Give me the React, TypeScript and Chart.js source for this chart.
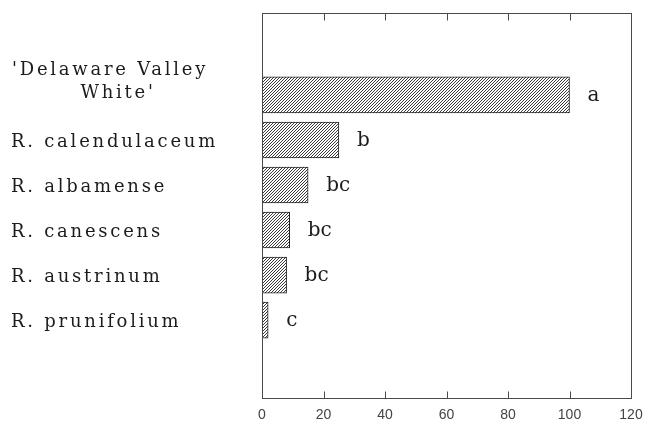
import React, { useEffect, useRef } from "react";
import { Chart, registerables } from "chart.js";

Chart.register(...registerables);

const categories: (string | string[])[] = [
  ["'Delaware Valley", "White'"],
  "R. calendulaceum",
  "R. albamense",
  "R. canescens",
  "R. austrinum",
  "R. prunifolium",
];
const values = [100, 25, 15, 9, 8, 2];
const groupLetters = ["a", "b", "bc", "bc", "bc", "c"];
const xTicks = [0, 20, 40, 60, 80, 100, 120];

export default function App() {
  const ref = useRef<HTMLCanvasElement>(null);

  useEffect(() => {
    const canvas = ref.current!;
    const pc = document.createElement("canvas");
    pc.width = 3;
    pc.height = 3;
    const p = pc.getContext("2d")!;
    p.fillStyle = "#ffffff";
    p.fillRect(0, 0, 3, 3);
    p.strokeStyle = "#222222";
    p.lineWidth = 0.9;
    p.beginPath();
    p.moveTo(0, 3);
    p.lineTo(3, 0);
    p.moveTo(-1, 1);
    p.lineTo(1, -1);
    p.moveTo(2, 4);
    p.lineTo(4, 2);
    p.stroke();
    const pattern = canvas.getContext("2d")!.createPattern(pc, "repeat")!;

    const framePlugin = {
      id: "frame",
      afterDatasetsDraw(chart: any) {
        const ctx = chart.ctx as CanvasRenderingContext2D;
        const xs = chart.scales.x;
        const { left, right, top, bottom } = chart.chartArea;
        ctx.save();
        ctx.strokeStyle = "#4a4a4a";
        ctx.lineWidth = 1;
        const l = Math.round(left) + 0.5;
        const t = Math.round(top) + 0.5;
        const r = Math.round(right) + 0.5;
        const b = Math.round(bottom) + 0.5;
        ctx.strokeRect(l, t, r - l, b - t);
        ctx.beginPath();
        xs.ticks.forEach((tk: any) => {
          if (tk.value <= xs.min || tk.value >= xs.max) return;
          const px = Math.round(xs.getPixelForValue(tk.value)) + 0.5;
          ctx.moveTo(px, t);
          ctx.lineTo(px, t + 7);
          ctx.moveTo(px, b);
          ctx.lineTo(px, b - 7);
        });
        ctx.stroke();
        ctx.restore();
      },
    };

    const labelPlugin = {
      id: "catLabels",
      afterDraw(chart: any) {
        const ctx = chart.ctx as any;
        const xs = chart.scales.x;
        const ys = chart.scales.y;
        ctx.save();
        ctx.fillStyle = "#1c1c1c";
        ctx.textBaseline = "alphabetic";
        ctx.font = '18px "DejaVu Serif"';
        ctx.letterSpacing = "0px";
        const base = ctx.measureText("R. calendulaceum").width;
        const ls = Math.max(0, (207 - base) / 16);
        ctx.letterSpacing = ls.toFixed(2) + "px";
        categories.forEach((c, i) => {
          const y = ys.getPixelForValue(i);
          if (Array.isArray(c)) {
            ctx.textAlign = "left";
            const w1 = ctx.measureText(c[0]).width;
            ctx.fillText(c[0], 12, y - 20);
            ctx.textAlign = "center";
            ctx.fillText(c[1], 12 + w1 / 2 + 8, y + 3);
          } else {
            ctx.textAlign = "left";
            ctx.fillText(c, 11, y + 7);
          }
        });
        ctx.font = '20px "DejaVu Serif"';
        ctx.letterSpacing = "0px";
        ctx.textAlign = "left";
        groupLetters.forEach((g, i) => {
          ctx.fillText(g, xs.getPixelForValue(values[i]) + 18, ys.getPixelForValue(i) + 6);
        });
        ctx.restore();
      },
    };

    const chart = new Chart(canvas, {
      type: "bar",
      data: {
        datasets: [
          {
            data: values.map((v, i) => ({ x: v, y: i })),
            backgroundColor: pattern,
            borderColor: "#222222",
            borderWidth: 1,
            borderSkipped: false,
            barThickness: 36,
          } as any,
        ],
      },
      options: {
        indexAxis: "y",
        animation: false,
        responsive: false,
        layout: { padding: { left: 262, right: 14, top: 13, bottom: 0 } },
        plugins: { legend: { display: false }, tooltip: { enabled: false } },
        scales: {
          y: { type: "linear", min: -1.82, max: 6.73, offset: false, reverse: true, display: false },
          x: {
            type: "linear",
            min: 0,
            max: 120,
            afterBuildTicks: (s: any) => {
              s.ticks = xTicks.map((v) => ({ value: v }));
            },
            afterFit: (s: any) => {
              s.height = 25;
              s.paddingLeft = 0;
              s.paddingRight = 0;
            },
            grid: { display: false, drawTicks: false, tickLength: 0 },
            border: { display: false },
            ticks: {
              padding: 9,
              maxRotation: 0,
              color: "#444444",
              font: { family: "Liberation Sans", size: 14 },
            },
          },
        },
      } as any,
      plugins: [framePlugin, labelPlugin],
    });
    return () => chart.destroy();
  }, []);

  return (
    <div style={{ position: "fixed", left: 0, top: 0, width: 645, height: 423, background: "#fff" }}>
      <canvas ref={ref} width={645} height={423} style={{ width: 645, height: 423, display: "block" }} />
    </div>
  );
}
